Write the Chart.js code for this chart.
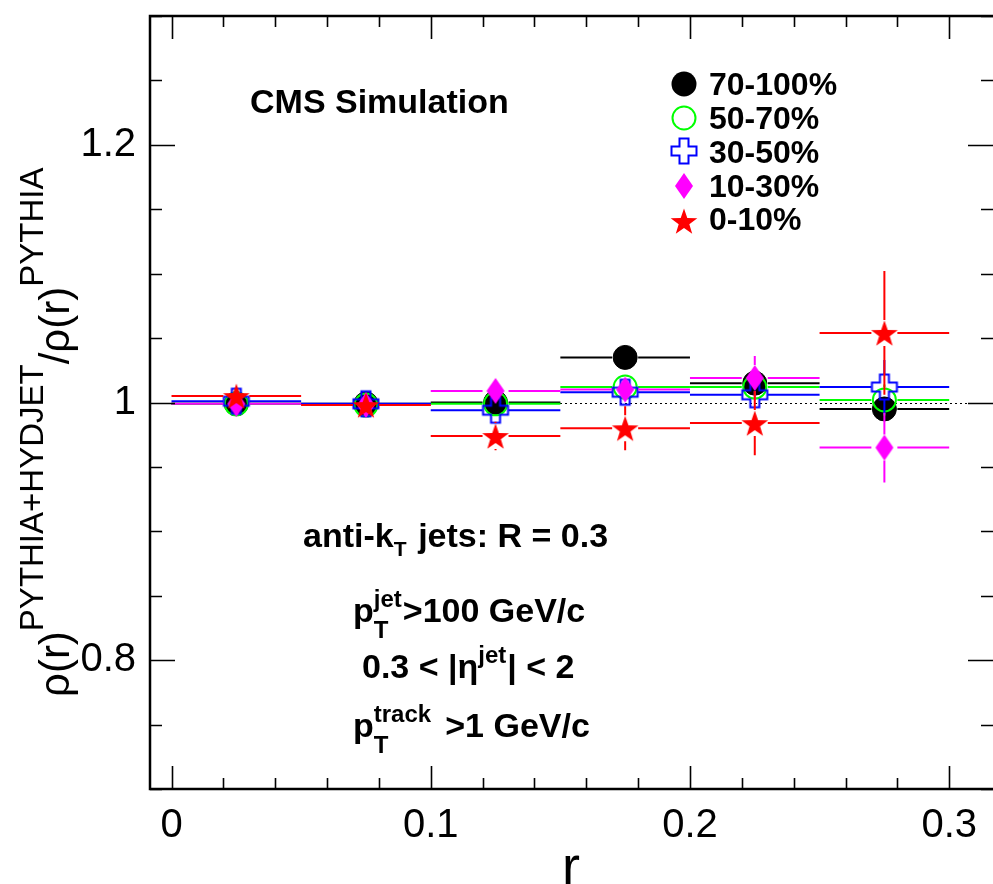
<!DOCTYPE html>
<html>
<head>
<meta charset="utf-8">
<script src="https://cdn.jsdelivr.net/npm/chart.js@4/dist/chart.umd.min.js"></script>
<style>
html,body{margin:0;padding:0;background:#fff;}
#wrap{position:relative;width:993px;height:884px;overflow:hidden;background:#fff;}
#c{position:absolute;left:0;top:0;}
.t{position:absolute;font-family:"Liberation Sans",Arial,Helvetica,sans-serif;font-weight:bold;color:#000;white-space:nowrap;line-height:1;}
.a{font-size:34px;}
.lg{font-size:32px;}
.ss{display:inline-block;position:relative;height:0;vertical-align:baseline;}
.ss .sp,.ss .sb{position:absolute;left:0;font-size:24px;line-height:1;white-space:nowrap;}
.ytitle{position:absolute;left:34px;top:697px;transform-origin:0 0;transform:rotate(-90deg);font-family:"Liberation Sans",Arial,Helvetica,sans-serif;font-size:42px;line-height:42px;white-space:nowrap;color:#000;}
.ytitle .ysup{font-size:33px;position:relative;top:-26px;}
.xtitle{position:absolute;left:571px;top:838px;transform:translateX(-50%);font-family:"Liberation Sans",Arial,Helvetica,sans-serif;font-size:54px;line-height:54px;color:#000;}
</style>
</head>
<body>
<div id="wrap">
<canvas id="c" width="993" height="884"></canvas>
<div class="t a" style="left:250px;top:84px;">CMS Simulation</div>
<div class="t lg" style="left:709px;top:68px;">70-100%</div>
<div class="t lg" style="left:709px;top:102px;">50-70%</div>
<div class="t lg" style="left:709px;top:136px;">30-50%</div>
<div class="t lg" style="left:709px;top:170px;">10-30%</div>
<div class="t lg" style="left:709px;top:203px;">0-10%</div>
<div class="t a" style="left:303px;top:518px;">anti-k<span class="ss" style="width:15px"><span class="sb" style="top:-9px;font-size:21px">T</span></span> jets: R = 0.3</div>
<div class="t a" style="left:353px;top:593px;">p<span class="ss" style="width:29px"><span class="sp" style="bottom:11px">jet</span><span class="sb" style="top:-4px">T</span></span>&gt;100 GeV/c</div>
<div class="t a" style="left:362px;top:649px;">0.3 &lt; |η<span class="ss" style="width:29px"><span class="sp" style="bottom:11px">jet</span></span>| &lt; 2</div>
<div class="t a" style="left:353px;top:708px;">p<span class="ss" style="width:62px"><span class="sp" style="bottom:11px">track</span><span class="sb" style="top:-4px">T</span></span> &gt;1 GeV/c</div>
<div class="ytitle">ρ(r)<span class="ysup">PYTHIA+HYDJET</span>/ρ(r)<span class="ysup">PYTHIA</span></div>
<div class="xtitle">r</div>
</div>
<script>
// ---- data ----
const binCenters = [0.025, 0.075, 0.125, 0.175, 0.225, 0.275];
const binHalfWidths = [0.025, 0.025, 0.025, 0.025, 0.025, 0.025];
const seriesNames = ['70-100%', '50-70%', '30-50%', '10-30%', '0-10%'];
const ratio70_100 = [0.999, 0.999, 1.000, 1.035, 1.015, 0.995];
const err70_100   = [0.002, 0.002, 0.004, 0.010, 0.008, 0.008];
const ratio50_70  = [0.999, 0.998, 0.999, 1.012, 1.012, 1.002];
const err50_70    = [0.002, 0.002, 0.004, 0.008, 0.010, 0.012];
const ratio30_50  = [1.001, 0.999, 0.994, 1.008, 1.006, 1.012];
const err30_50    = [0.002, 0.002, 0.005, 0.008, 0.010, 0.021];
const ratio10_30  = [0.999, 0.998, 1.009, 1.010, 1.019, 0.965];
const err10_30    = [0.003, 0.003, 0.006, 0.010, 0.017, 0.027];
const ratio0_10   = [1.005, 0.998, 0.974, 0.980, 0.984, 1.054];
const err0_10     = [0.005, 0.004, 0.011, 0.017, 0.025, 0.048];
const xTickLabels = [0, 0.1, 0.2, 0.3];
const yTickLabels = [0.8, 1.0, 1.2];

// ---- marker images ----
function mk(w, h, fn) { const c = document.createElement('canvas'); c.width = w; c.height = h; fn(c.getContext('2d'), w / 2, h / 2); return c; }
const crossImg = mk(30, 30, (g, cx, cy) => {
  const a = 4.5, L = 12.5;
  const pts = [[-a,-L],[a,-L],[a,-a],[L,-a],[L,a],[a,a],[a,L],[-a,L],[-a,a],[-L,a],[-L,-a],[-a,-a]];
  g.beginPath(); pts.forEach((p, i) => i ? g.lineTo(cx + p[0], cy + p[1]) : g.moveTo(cx + p[0], cy + p[1])); g.closePath();
  g.strokeStyle = '#0000ff'; g.lineWidth = 2; g.stroke();
});
const diamondImg = mk(20, 28, (g, cx, cy) => {
  g.beginPath(); g.moveTo(cx, cy - 13); g.lineTo(cx + 9, cy); g.lineTo(cx, cy + 13); g.lineTo(cx - 9, cy); g.closePath();
  g.fillStyle = '#ff00ff'; g.fill();
});
const starImg = mk(30, 30, (g, cx, cy) => {
  const R = 14, r = 5.6; g.beginPath();
  for (let i = 0; i < 10; i++) { const ang = -Math.PI / 2 + i * Math.PI / 5; const rr = i % 2 ? r : R; const x = cx + rr * Math.cos(ang), y = cy + 1.5 + rr * Math.sin(ang); i ? g.lineTo(x, y) : g.moveTo(x, y); }
  g.closePath(); g.fillStyle = '#ff0000'; g.fill();
});

function pts(vals) { return vals.map((v, i) => ({ x: binCenters[i], y: v })); }
const FONT = '"Liberation Sans", Arial, Helvetica, sans-serif';

const datasets = [
  { label: seriesNames[4], data: pts(ratio0_10), yErr: err0_10, color: '#ff0000', pointStyle: starImg, pointRadius: 13 },
  { label: seriesNames[3], data: pts(ratio10_30), yErr: err10_30, color: '#ff00ff', pointStyle: diamondImg, pointRadius: 13 },
  { label: seriesNames[2], data: pts(ratio30_50), yErr: err30_50, color: '#0000ff', pointStyle: crossImg, pointRadius: 13 },
  { label: seriesNames[1], data: pts(ratio50_70), yErr: err50_70, color: '#00ff00', pointStyle: 'circle', pointRadius: 11.5, borderWidth: 2, borderColor: '#00ff00', backgroundColor: 'rgba(0,0,0,0)' },
  { label: seriesNames[0], data: pts(ratio70_100), yErr: err70_100, color: '#000000', pointStyle: 'circle', pointRadius: 12, borderWidth: 1, borderColor: '#000', backgroundColor: '#000' }
];
datasets.forEach(d => { d.showLine = false; d.pointHoverRadius = d.pointRadius; if (!d.borderColor) { d.borderColor = d.color; d.backgroundColor = d.color; d.borderWidth = 0; } });

const errPlugin = {
  id: 'errbars',
  beforeDatasetsDraw(chart) {
    const { ctx, chartArea: a, scales: { y } } = chart;
    const py = y.getPixelForValue(1);
    ctx.save(); ctx.strokeStyle = '#000'; ctx.lineWidth = 1; ctx.setLineDash([2, 3]);
    ctx.beginPath(); ctx.moveTo(a.left, Math.round(py) + 0.5); ctx.lineTo(a.right, Math.round(py) + 0.5); ctx.stroke(); ctx.restore();
  },
  beforeDatasetDraw(chart, args) {
    const ds = chart.data.datasets[args.index];
    const { ctx, scales: { x, y } } = chart;
    const gap = 13;
    ctx.save(); ctx.strokeStyle = ds.color; ctx.lineWidth = 2;
    ds.data.forEach((p, i) => {
      const px = x.getPixelForValue(p.x), py = y.getPixelForValue(p.y);
      const xl = x.getPixelForValue(p.x - binHalfWidths[i]), xr = x.getPixelForValue(p.x + binHalfWidths[i]);
      const yt = y.getPixelForValue(p.y + ds.yErr[i]), yb = y.getPixelForValue(p.y - ds.yErr[i]);
      ctx.beginPath();
      ctx.moveTo(xl, py); ctx.lineTo(px - gap, py);
      ctx.moveTo(px + gap, py); ctx.lineTo(xr, py);
      if (py - yt > gap) { ctx.moveTo(px, py - gap); ctx.lineTo(px, yt); }
      if (yb - py > gap) { ctx.moveTo(px, py + gap); ctx.lineTo(px, yb); }
      ctx.stroke();
    });
    ctx.restore();
  }
};

const framePlugin = {
  id: 'frame',
  afterDraw(chart) {
    const { ctx, chartArea: a, scales: { x, y } } = chart;
    ctx.save(); ctx.strokeStyle = '#000';
    ctx.lineWidth = 1.6;
    ctx.beginPath();
    for (let k = 0; k <= 16; k++) {
      const v = k * 0.02; if (v > x.max) break;
      const px = Math.round(x.getPixelForValue(v)) + 0.5;
      const major = k % 5 === 0; const L = major ? 23 : 11;
      ctx.moveTo(px, a.bottom); ctx.lineTo(px, a.bottom - L);
      ctx.moveTo(px, a.top); ctx.lineTo(px, a.top + L);
    }
    for (let k = 14; k <= 26; k++) {
      const v = k * 0.05; if (v < y.min - 1e-9 || v > y.max + 1e-9) continue;
      const py = Math.round(y.getPixelForValue(v)) + 0.5;
      const major = k % 4 === 0; const L = major ? 25 : 12;
      ctx.moveTo(a.left, py); ctx.lineTo(a.left + L, py);
      ctx.moveTo(a.right, py); ctx.lineTo(a.right - L, py);
    }
    ctx.stroke();
    ctx.lineWidth = 2.5;
    ctx.beginPath();
    ctx.moveTo(a.right + 5, a.top); ctx.lineTo(a.left, a.top); ctx.lineTo(a.left, a.bottom); ctx.lineTo(a.right + 5, a.bottom);
    ctx.stroke();
    // legend symbols
    const lx = 684, ly = [84, 118, 151, 186, 221];
    ctx.fillStyle = '#000'; ctx.beginPath(); ctx.arc(lx, ly[0], 12.5, 0, 2 * Math.PI); ctx.fill();
    ctx.strokeStyle = '#00ff00'; ctx.lineWidth = 2; ctx.beginPath(); ctx.arc(lx, ly[1], 11.5, 0, 2 * Math.PI); ctx.stroke();
    ctx.drawImage(crossImg, lx - 15, ly[2] - 15);
    ctx.drawImage(diamondImg, lx - 10, ly[3] - 14);
    ctx.drawImage(starImg, lx - 15, ly[4] - 15);
    ctx.restore();
  }
};

const fmt = v => String(+(+v).toFixed(2));

new Chart(document.getElementById('c').getContext('2d'), {
  type: 'scatter',
  data: { datasets },
  options: {
    responsive: false,
    animation: false,
    devicePixelRatio: 1,
    layout: { autoPadding: false, padding: { top: 16, right: 0, bottom: 0, left: 0 } },
    plugins: { legend: { display: false }, tooltip: { enabled: false } },
    scales: {
      x: {
        type: 'linear', position: 'bottom', min: -0.0083, max: 0.3169,
        grid: { display: false, drawTicks: false }, border: { display: false },
        afterBuildTicks: s => { s.ticks = xTickLabels.map(v => ({ value: v })); },
        afterFit: s => { s.height = 95; s.paddingLeft = 0; s.paddingRight = 0; },
        ticks: { color: '#000', padding: 13, maxRotation: 0, autoSkip: false, font: { family: FONT, size: 40 }, callback: fmt }
      },
      y: {
        type: 'linear', position: 'left', min: 0.7, max: 1.3,
        grid: { display: false, drawTicks: false }, border: { display: false },
        afterBuildTicks: s => { s.ticks = yTickLabels.map(v => ({ value: v })); },
        afterFit: s => { s.width = 150; s.paddingTop = 0; s.paddingBottom = 0; },
        ticks: { color: '#000', padding: 14, autoSkip: false, font: { family: FONT, size: 40 }, callback: fmt }
      }
    }
  },
  plugins: [errPlugin, framePlugin]
});
</script>
</body>
</html>
